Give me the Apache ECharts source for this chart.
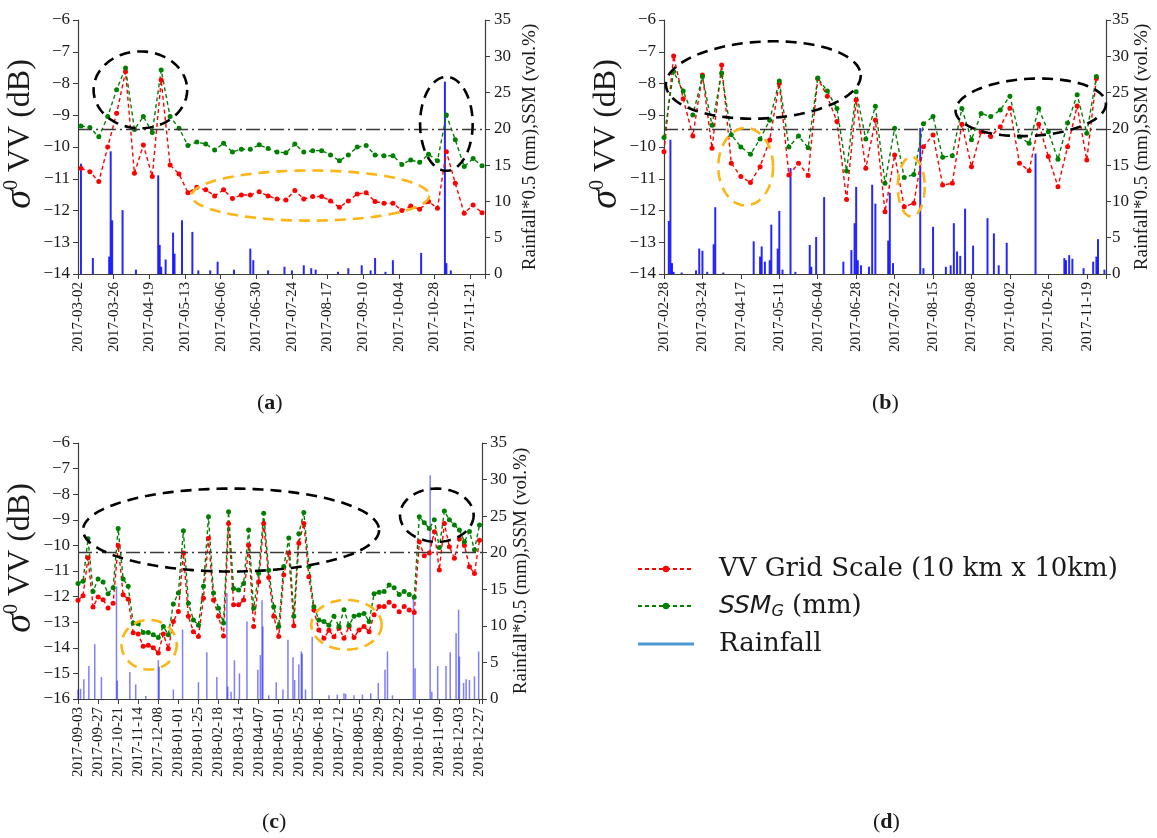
<!DOCTYPE html>
<html>
<head>
<meta charset="utf-8">
<script src="https://cdn.jsdelivr.net/npm/echarts@6/dist/echarts.min.js"></script>
<style>html,body{margin:0;padding:0;background:#fff}#chart{width:1157px;height:838px}</style>
</head>
<body>
<div id="chart"></div>
<script>
// ---------------- DATA ----------------
// Panel (a): axis origin date, observation day offsets, values
const A_START = '2017-03-02';
const A_DAY = [2,8,14,20,26,32,38,44,50,56,62,68,74,80,86,92,98,104,110,116,122,128,134,140,146,152,158,164,170,176,182,188,194,200,206,212,218,224,230,236,242,248,254,260,266,272];
const A_VV = [-10.67,-10.78,-11.09,-10.0,-8.94,-7.63,-10.83,-9.94,-10.93,-7.89,-10.57,-10.85,-11.44,-11.27,-11.35,-11.54,-11.35,-11.62,-11.51,-11.51,-11.41,-11.54,-11.64,-11.67,-11.37,-11.64,-11.56,-11.56,-11.70,-11.90,-11.70,-11.48,-11.44,-11.72,-11.77,-11.77,-12.0,-11.86,-11.96,-11.72,-11.93,-10.15,-11.14,-12.09,-11.83,-12.07];
const A_SSM = [20.4,20.2,18.9,21.7,25.4,28.4,19.9,21.7,19.5,28.1,21.7,20.1,17.7,18.2,17.9,17.1,18.0,16.8,17.2,17.2,17.8,17.3,16.8,16.7,17.9,16.8,17.0,17.0,16.4,15.6,16.4,17.5,17.7,16.4,16.3,16.3,15.1,15.7,15.4,16.5,15.6,21.9,18.5,14.8,15.9,14.9];
const A_RAIN_DAY = [2,10,21,22,23,30,39,54,55,56,59,64,65,70,77,81,89,94,105,116,118,128,139,144,152,157,160,175,182,191,197,200,207,212,231,247,248,251];
const A_RAIN = [15.2,2.2,2.4,16.9,7.4,8.8,0.6,13.6,4.0,1.0,2.0,5.7,2.8,7.4,5.8,0.5,0.5,1.7,0.6,3.5,1.9,0.5,1.0,0.5,1.2,0.8,0.6,0.3,0.8,1.2,0.5,2.2,0.3,1.9,2.9,26.5,1.5,0.5];

// Panel (b)
const B_START = '2017-02-28';
const B_DAY = [0,6,12,18,24,30,36,42,48,54,60,66,72,78,84,90,96,102,108,114,120,126,132,138,144,150,156,162,168,174,180,186,192,198,204,210,216,222,228,234,240,246,252,258,264,270];
const B_VV = [-10.15,-7.13,-8.48,-9.65,-7.73,-10.04,-7.42,-10.51,-10.93,-11.12,-10.62,-9.78,-7.99,-10.88,-10.51,-10.9,-7.84,-8.4,-9.2,-11.65,-8.52,-10.67,-9.15,-12.04,-10.25,-11.88,-11.77,-9.99,-9.62,-11.2,-11.14,-9.28,-10.62,-9.52,-9.67,-9.36,-8.78,-10.51,-10.75,-9.28,-10.3,-11.25,-9.99,-8.71,-10.41,-7.84];
const B_SSM = [18.8,27.9,25.2,21.9,27.2,20.5,27.7,19.2,17.5,16.5,18.6,21.2,26.6,17.5,19.0,17.4,27.0,25.2,22.8,14.2,25.1,18.6,23.1,12.5,20.1,13.3,13.7,20.7,21.7,16.1,16.3,22.8,18.5,22.1,21.7,22.6,24.5,18.9,18.0,22.8,19.6,15.8,20.8,24.7,19.4,27.2];
const B_RAIN_DAY = [3,4,5,6,11,20,22,24,27,31,32,37,56,60,61,63,66,67,71,72,74,79,82,91,92,95,100,112,117,119,120,121,123,128,130,132,140,141,143,160,162,168,176,179,181,183,185,188,193,202,206,209,214,232,250,251,253,255,262,268,270,271,275];
const B_RAIN = [7.3,18.5,1.5,0.3,0.2,0.5,3.5,3.2,0.3,4.1,9.2,0.2,4.5,2.4,3.8,1.7,1.9,6.8,3.5,8.7,0.6,14.6,0.3,4.0,1.0,5.1,10.6,1.7,3.3,7.0,12.0,1.9,1.2,1.0,12.3,9.7,4.6,11.2,1.5,20.1,0.8,6.5,1.0,1.2,7.0,3.1,2.5,9.0,3.9,7.7,5.6,1.2,4.3,16.6,2.2,1.9,2.6,2.1,0.8,1.7,2.4,4.8,0.6];

// Panel (c)
const C_START = '2017-09-03';
const C_DAY = [0,6,12,18,24,30,36,42,48,54,60,66,72,78,84,90,96,102,108,114,120,126,132,138,144,150,156,162,168,174,180,186,192,198,204,210,216,222,228,234,240,246,252,258,264,270,276,282,288,294,300,306,312,318,324,330,336,342,348,354,360,366,372,378,384,390,396,402,408,414,420,426,432,438,444,450,456,462,468,474,480];
const C_VV = [-12.14,-11.97,-10.48,-12.41,-12.02,-12.12,-12.45,-12.26,-10.0,-11.93,-12.1,-13.41,-13.46,-13.94,-13.9,-14.0,-14.2,-13.46,-14.04,-12.97,-12.58,-10.3,
  -12.77,-13.37,-13.56,-12.06,-9.72,-12.13,-12.77,-13.54,-9.14,-12.32,-12.32,-12.13,-9.99,-13.17,-11.42,-9.14,-11.25,-12.77,-13.56,-11.15,-10.3,-13.14,-9.92,-9.14,-11.22,-12.52,-13.3,-13.63,
  -13.31,-13.57,-13.24,-13.63,-13.17,-13.6,-13.3,-13.17,-13.37,-12.71,-12.39,-12.39,-12.22,-12.37,-12.59,-12.39,-12.52,-12.62,
  -9.86,-10.4,-10.3,-9.47,-10.96,-9.14,-10.05,-10.5,-9.75,-10.0,-10.83,-11.1,-9.8];
const C_SSM = [15.8,16.1,21.9,14.7,16.4,16.0,14.4,15.2,23.3,16.4,15.4,10.4,10.3,9.1,9.1,8.8,8.4,9.9,8.8,13.0,14.5,23.0,
  13.1,10.8,10.1,15.4,24.9,14.5,12.4,10.4,25.6,15.1,14.9,15.8,23.1,12.4,17.2,25.4,17.6,12.6,9.9,18.1,22.0,11.3,22.6,25.5,18.1,12.6,10.8,10.6,
  10.1,11.3,9.9,12.2,10.1,11.3,11.5,11.7,10.6,14.4,14.6,14.7,15.6,15.2,14.3,14.7,14.3,13.9,
  24.9,24.1,23.3,24.5,20.7,25.7,24.5,23.8,23.1,21.5,22.9,20.4,23.8];
const C_RAIN_DAY = [0,3,7,13,20,28,46,47,62,69,81,96,97,114,125,144,154,166,178,179,183,187,193,202,215,218,220,221,228,237,245,251,257,259,264,267,268,272,280,300,310,318,320,330,340,350,359,367,370,376,401,403,421,423,430,440,445,452,455,456,461,464,468,474,479];
const C_RAIN = [1.3,1.4,2.7,4.5,7.5,3.0,15.4,2.5,3.7,2.0,0.4,5.3,4.4,1.3,9.5,2.3,6.4,3.0,14.5,1.7,1.0,5.3,3.5,10.6,4.0,6.0,13.5,9.9,0.5,2.3,1.3,8.1,5.7,2.6,4.7,6.5,6.2,1.3,8.5,0.5,0.6,0.8,0.7,0.5,0.6,0.8,2.2,4.0,6.5,0.5,14.0,4.2,30.6,1.0,4.5,4.5,6.4,9.0,12.2,5.8,2.2,2.7,2.6,3.1,6.5];

// Annotation ellipses: [centre day, centre dB, half-width days, half-height dB, tilt deg, kind]
const A_NOTES = [[42,-8.2,31.5,1.21,0,'k'],[248,-9.27,17.7,1.48,0,'k'],[156.5,-11.53,80,0.79,0,'y']];
const B_NOTES = [[62,-7.89,60.9,1.21,-3,'k'],[229,-8.75,47,0.9,-3,'k'],[51,-10.62,17.1,1.22,0,'y'],[154.4,-11.25,8.4,0.94,0,'y']];
const C_NOTES = [[183,-9.4,177,1.62,0,'k'],[429,-8.82,44,1.04,0,'k'],[85,-13.88,33,0.97,0,'y'],[321,-13.1,42,0.97,0,'y']];

const SSM_LIMIT = 20;
const VV_NAME = 'VV Grid Scale (10 km x 10km)';
const SSM_NAME = 'SSM_G (mm)';
const RAIN_NAME = 'Rainfall';

// ---------------- CHART ----------------
const SERIF = 'Liberation Serif';
const TXT = '#1a1a1a';
const AX = '#3c3c3c';

function dateStr(start, d) {
  const t = new Date(start + 'T00:00:00Z');
  t.setUTCDate(t.getUTCDate() + d);
  return t.toISOString().slice(0, 10);
}

const NOTE_STYLE = { k: '#000000', y: '#FDB515' };
function ellipseRender(params, api, kinds) {
  const c = api.coord([api.value(0), api.value(1)]);
  const s = api.size([api.value(2), api.value(3)]);
  const rot = api.value(4) * Math.PI / 180;
  const pts = [];
  for (let k = 0; k <= 120; k++) {
    const t = k / 120 * Math.PI * 2;
    const ex = s[0] * Math.cos(t), ey = s[1] * Math.sin(t);
    pts.push([c[0] + ex * Math.cos(rot) - ey * Math.sin(rot), c[1] + ex * Math.sin(rot) + ey * Math.cos(rot)]);
  }
  return {
    type: 'polyline',
    shape: { points: pts },
    style: { fill: null, stroke: NOTE_STYLE[kinds[params.dataIndex]], lineWidth: 2.6, lineDash: [11, 7] },
    silent: true
  };
}

const panels = [
  { start: A_START, xmax: 274, ymin: -14, days: A_DAY, vv: A_VV, ssm: A_SSM, rd: A_RAIN_DAY, rv: A_RAIN, notes: A_NOTES,
    grid: { left: 78, top: 20, width: 407, height: 254 }, lgap: 30, rgap: 36, rmargin: 9, rain: 'rgba(0,0,255,0.85)', rainW: 2 },
  { start: B_START, xmax: 276, ymin: -14, days: B_DAY, vv: B_VV, ssm: B_SSM, rd: B_RAIN_DAY, rv: B_RAIN, notes: B_NOTES,
    grid: { left: 664, top: 20, width: 442, height: 254 }, lgap: 25, rgap: 27, rmargin: 6, rain: 'rgba(0,0,255,0.85)', rainW: 2 },
  { start: C_START, xmax: 483, ymin: -16, days: C_DAY, vv: C_VV, ssm: C_SSM, rd: C_RAIN_DAY, rv: C_RAIN, notes: C_NOTES,
    grid: { left: 78, top: 443, width: 404, height: 256 }, lgap: 30, rgap: 30, rmargin: 8, rain: 'rgba(20,20,255,0.55)', rainW: 1.5 }
];

const grid = [], xAxis = [], yAxis = [], series = [];
panels.forEach((p, i) => {
  grid.push(Object.assign({ containLabel: false }, p.grid));
  xAxis.push({
    type: 'value', gridIndex: i, min: 0, max: p.xmax, interval: 24,
    axisLine: { show: true, lineStyle: { color: AX, width: 1.2 } },
    axisTick: { show: true, length: 5, lineStyle: { color: AX } },
    splitLine: { show: false },
    axisLabel: { rotate: 90, fontSize: 15, fontFamily: SERIF, color: TXT, margin: 8,
      formatter: v => (v % 24 === 0 ? dateStr(p.start, v) : '') }
  });
  yAxis.push({
    type: 'value', gridIndex: i, position: 'left', min: p.ymin, max: -6, interval: 1,
    name: '{s|σ}{p|0} VV (dB)', nameLocation: 'middle', nameGap: p.lgap,
    nameTextStyle: { fontSize: 32, fontFamily: SERIF, color: TXT, padding: [0, 0, 0, 26],
      rich: { s: { fontSize: 38, fontStyle: 'italic', fontFamily: SERIF, color: TXT },
              p: { fontSize: 20, fontFamily: SERIF, color: TXT, verticalAlign: 'top' } } },
    axisLine: { show: true, lineStyle: { color: AX, width: 1.2 } },
    axisTick: { show: true, length: 5, lineStyle: { color: AX } },
    splitLine: { show: false },
    axisLabel: { fontSize: 17, fontFamily: SERIF, color: TXT, margin: 8,
      formatter: v => String(v).replace('-', '\u2212') }
  });
  yAxis.push({
    type: 'value', gridIndex: i, position: 'right', min: 0, max: 35, interval: 5,
    name: 'Rainfall*0.5 (mm),SSM (vol.%)', nameLocation: 'middle', nameGap: p.rgap,
    nameTextStyle: { fontSize: 19, fontFamily: SERIF, color: TXT },
    axisLine: { show: true, lineStyle: { color: AX, width: 1.2 } },
    axisTick: { show: true, length: 5, lineStyle: { color: AX } },
    splitLine: { show: false },
    axisLabel: { fontSize: 17, fontFamily: SERIF, color: TXT, margin: p.rmargin }
  });
  series.push({
    type: 'bar', name: RAIN_NAME, xAxisIndex: i, yAxisIndex: 2 * i + 1, barWidth: p.rainW,
    data: p.rd.map((d, k) => [d, p.rv[k]]), itemStyle: { color: p.rain }, z: 1,
    markLine: { silent: true, symbol: ['none', 'none'], label: { show: false }, animation: false,
      lineStyle: { color: '#3a3a3a', type: [14, 4, 2, 4], width: 1.3 }, data: [{ yAxis: SSM_LIMIT }] }
  });
  series.push({
    type: 'line', name: VV_NAME, xAxisIndex: i, yAxisIndex: 2 * i, data: p.days.map((d, k) => [d, p.vv[k]]),
    symbol: 'circle', symbolSize: 5, showAllSymbol: true, z: 3,
    itemStyle: { color: '#ff0000' }, lineStyle: { color: '#ff0000', width: 1.4, type: [4, 3] }
  });
  series.push({
    type: 'line', name: SSM_NAME, xAxisIndex: i, yAxisIndex: 2 * i + 1, data: p.days.map((d, k) => [d, p.ssm[k]]),
    symbol: 'circle', symbolSize: 5, showAllSymbol: true, z: 3,
    itemStyle: { color: '#008000' }, lineStyle: { color: '#008000', width: 1.4, type: [4, 3] }
  });
  const kinds = p.notes.map(n => n[5]);
  series.push({
    type: 'custom', xAxisIndex: i, yAxisIndex: 2 * i, z: 6, silent: true,
    data: p.notes.map(n => n.slice(0, 5)),
    renderItem: (params, api) => ellipseRender(params, api, kinds)
  });
});

const capStyle = { fontSize: 22, fontFamily: SERIF, fontWeight: 'normal', color: TXT,
  rich: { b: { fontSize: 22, fontFamily: SERIF, fontWeight: 'bold', color: TXT } } };

const option = {
  animation: false,
  backgroundColor: '#ffffff',
  grid, xAxis, yAxis, series,
  title: [
    { text: '({b|a})', left: 252, top: 387, textStyle: capStyle },
    { text: '({b|b})', left: 867, top: 387, textStyle: capStyle },
    { text: '({b|c})', left: 257, top: 806, textStyle: capStyle },
    { text: '({b|d})', left: 868, top: 806, textStyle: capStyle }
  ],
  legend: {
    orient: 'vertical', left: 632, top: 551, itemGap: 11, itemWidth: 56, itemHeight: 8,
    selectedMode: false,
    data: [
      { name: VV_NAME },
      { name: SSM_NAME },
      { name: RAIN_NAME, icon: 'path://M0,0H60V3H0Z', itemStyle: { color: '#4f97d4' } }
    ],
    formatter: n => (n === SSM_NAME ? '{it|SSM}{sub|G} (mm)' : n),
    textStyle: { fontSize: 26, fontFamily: 'DejaVu Serif', color: TXT, padding: [0, 0, 0, 20],
      rich: { it: { fontSize: 25, fontFamily: 'DejaVu Sans', fontStyle: 'italic', color: TXT },
              sub: { fontSize: 16, fontFamily: 'DejaVu Sans', fontStyle: 'italic', color: TXT, verticalAlign: 'bottom', padding: [12, 0, 0, 0] } } }
  }
};

const chart = echarts.init(document.getElementById('chart'), null, { renderer: 'canvas' });
chart.setOption(option);
</script>
</body>
</html>
